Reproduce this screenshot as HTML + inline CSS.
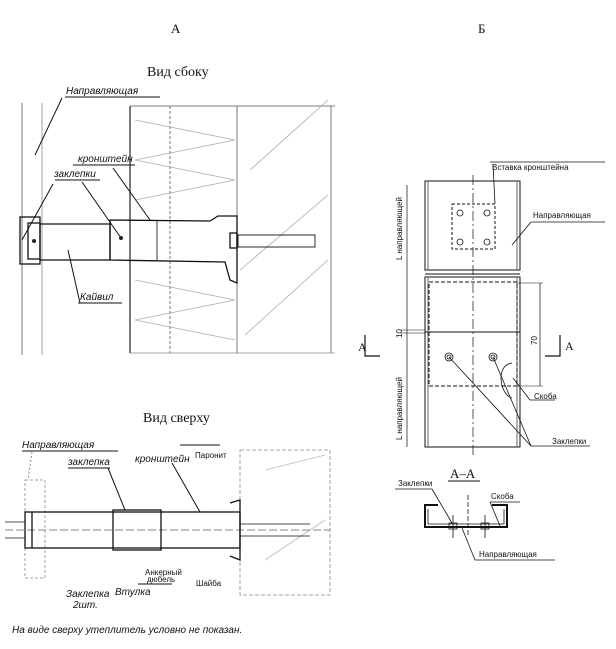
<!DOCTYPE html>
<html><head><meta charset="utf-8"><style>
html,body{margin:0;padding:0;background:#fff;}
svg{display:block}
text{font-family:"Liberation Serif",serif;fill:#111}
.h{font-family:"Liberation Sans",sans-serif;font-style:italic;font-size:10px}
.s{font-family:"Liberation Sans",sans-serif;font-size:8px}
</style></head><body>
<svg width="616" height="649" viewBox="0 0 616 649" xmlns="http://www.w3.org/2000/svg">
<text x="171" y="33" font-size="13">А</text>
<text x="478" y="33" font-size="13">Б</text>
<text x="147" y="76" font-size="14">Вид сбоку</text>
<text x="143" y="422" font-size="14">Вид сверху</text>

<!-- SIDE VIEW -->
<g fill="none" stroke="#555" stroke-width="0.8">
<line x1="22" y1="103" x2="22" y2="355"/>
<line x1="42" y1="103" x2="42" y2="355" stroke="#888"/>
<line x1="130" y1="106" x2="130" y2="353" stroke="#222" stroke-width="1.2"/>
<line x1="170" y1="106" x2="170" y2="353" stroke-dasharray="3,2"/>
<line x1="237" y1="106" x2="237" y2="353"/>
<line x1="331" y1="106" x2="331" y2="353"/>
<line x1="130" y1="106" x2="335" y2="106"/>
<line x1="130" y1="353" x2="335" y2="353" stroke="#888"/>
<path d="M135 120 L235 140 L135 160 L235 180 L135 200 M135 280 L235 300 L135 320 L235 340" stroke="#aaa"/>
<path d="M250 170 L328 100 M240 270 L328 195 M245 335 L328 260" stroke="#aaa"/>
</g>
<g fill="none" stroke="#111" stroke-width="1.3">
<rect x="20" y="217" width="20" height="47"/>
<rect x="28" y="223" width="12" height="36"/>
<path d="M40 224 L110 224 L110 260 L40 260"/>
<path d="M110 220 L210 221 L218 216 L237 216 L237 283 L230 280 L225 262 L110 260 Z"/>
<line x1="157" y1="221" x2="157" y2="260" stroke="#666"/>
<rect x="230" y="233" width="7" height="15"/>
<rect x="238" y="235" width="77" height="12" stroke-width="0.9"/>
</g>
<circle cx="121" cy="238" r="2" fill="#222"/>
<circle cx="34" cy="241" r="2" fill="#222"/>
<g stroke="#111" stroke-width="1" fill="none">
<line x1="65" y1="97" x2="160" y2="97"/><line x1="62" y1="98" x2="35" y2="155"/>
<line x1="73" y1="165" x2="135" y2="165"/><line x1="113" y1="168" x2="150" y2="220"/>
<line x1="55" y1="180" x2="100" y2="180"/><line x1="82" y1="182" x2="121" y2="238"/>
<line x1="53" y1="184" x2="22" y2="240"/>
<line x1="78" y1="303" x2="122" y2="303"/><line x1="80" y1="303" x2="68" y2="250"/>
</g>
<text class="h" x="66" y="94">Направляющая</text>
<text class="h" x="78" y="162">кронштейн</text>
<text class="h" x="54" y="177">заклепки</text>
<text class="h" x="80" y="300">Кайвил</text>

<!-- TOP VIEW -->
<g fill="none" stroke="#888" stroke-width="0.8">
<rect x="25" y="480" width="20" height="98" stroke-dasharray="3,2"/>
<rect x="240" y="450" width="90" height="145" stroke-dasharray="4,2"/>
<path d="M265 470 L325 455 M265 560 L325 520" stroke="#bbb"/>
</g>
<g fill="none" stroke="#111" stroke-width="1.3">
<rect x="25" y="512" width="215" height="36"/>
<line x1="32" y1="512" x2="32" y2="548"/>
<rect x="113" y="510" width="48" height="40"/>
<path d="M230 503 L240 500 L240 560 L230 556"/>
<line x1="240" y1="524" x2="310" y2="524" stroke-width="0.8"/>
<line x1="240" y1="536" x2="310" y2="536" stroke-width="0.8"/>
<line x1="5" y1="522" x2="25" y2="522" stroke-width="0.8"/>
<line x1="5" y1="538" x2="25" y2="538" stroke-width="0.8"/>
<line x1="5" y1="530" x2="330" y2="530" stroke-width="0.5" stroke-dasharray="8,3"/>
</g>
<g stroke="#111" stroke-width="1" fill="none">
<line x1="22" y1="451" x2="118" y2="451"/><line x1="32" y1="452" x2="28" y2="480" stroke="#888" stroke-dasharray="2,2"/>
<line x1="68" y1="468" x2="110" y2="468"/><line x1="108" y1="468" x2="125" y2="510"/>
<line x1="172" y1="463" x2="200" y2="512"/>
<line x1="180" y1="445" x2="220" y2="445"/>
<line x1="138" y1="584" x2="172" y2="584"/>
</g>
<text class="h" x="22" y="448">Направляющая</text>
<text class="h" x="68" y="465">заклепка</text>
<text class="h" x="135" y="462">кронштейн</text>
<text class="s" x="195" y="458" font-size="6">Паронит</text>
<text class="s" x="145" y="575" font-size="6">Анкерный</text>
<text class="s" x="147" y="582" font-size="6">дюбель</text>
<text class="s" x="196" y="586" font-size="6">Шайба</text>
<text class="h" x="115" y="595">Втулка</text>
<text class="h" x="66" y="597">Заклепка</text>
<text class="h" x="73" y="608">2шт.</text>
<text class="h" x="12" y="633" font-size="11">На виде сверху утеплитель условно не показан.</text>

<!-- RIGHT VIEW Б -->
<g fill="none" stroke="#111" stroke-width="1">
<path d="M425 181 L425 270 L520 270 L520 181 Z"/>
<line x1="428" y1="181" x2="428" y2="270" stroke="#666"/>
<line x1="517" y1="181" x2="517" y2="270" stroke="#666"/>
<path d="M425 274 L520 274 M425 277 L425 447 L520 447 L520 277 Z"/>
<line x1="428" y1="277" x2="428" y2="447" stroke="#666"/>
<line x1="517" y1="277" x2="517" y2="447" stroke="#666"/>
<line x1="425" y1="332" x2="520" y2="332"/>
<rect x="452" y="204" width="43" height="45" stroke-dasharray="3,2"/>
<rect x="429" y="282" width="88" height="104" stroke-dasharray="4,2"/>
<line x1="473" y1="175" x2="473" y2="456" stroke-dasharray="10,3,2,3" stroke-width="0.7"/>
<line x1="407" y1="185" x2="407" y2="447" stroke-width="0.7"/>
<line x1="400" y1="330" x2="425" y2="330" stroke-width="0.6"/>
<line x1="400" y1="333" x2="425" y2="333" stroke-width="0.6"/>
<line x1="540" y1="283" x2="540" y2="386" stroke-width="0.7"/>
<line x1="517" y1="283" x2="543" y2="283" stroke-width="0.6"/>
<line x1="517" y1="386" x2="543" y2="386" stroke-width="0.6"/>
<path d="M365 335 L365 356 L380 356 M560 335 L560 356 L545 356" stroke-width="1.2"/>
<path d="M512 363 C495 365 500 395 512 398" stroke-width="0.8"/>
</g>
<g stroke="#111" stroke-width="0.8">
<circle cx="460" cy="213" r="3" fill="none"/><circle cx="487" cy="213" r="3" fill="none"/>
<circle cx="460" cy="242" r="3" fill="none"/><circle cx="487" cy="242" r="3" fill="none"/>
<circle cx="449" cy="357" r="4" fill="none"/><circle cx="449" cy="357" r="2" fill="none"/>
<circle cx="493" cy="357" r="4" fill="none"/><circle cx="493" cy="357" r="2" fill="none"/>
<line x1="449" y1="357" x2="531" y2="446"/><line x1="493" y1="357" x2="531" y2="446"/>
<line x1="513" y1="378" x2="530" y2="400"/>
<line x1="530" y1="400" x2="555" y2="400"/>
<line x1="531" y1="446" x2="590" y2="446"/>
<line x1="490" y1="162" x2="605" y2="162"/><line x1="493" y1="164" x2="495" y2="204"/>
<line x1="531" y1="222" x2="605" y2="222"/><line x1="531" y1="222" x2="512" y2="245"/>
</g>
<text class="s" x="492" y="170" font-size="9">Вставка кронштейна</text>
<text class="s" x="533" y="218" font-size="9">Направляющая</text>
<text class="s" x="534" y="399" font-size="9">Скоба</text>
<text class="s" x="552" y="444" font-size="8">Заклепки</text>
<text x="358" y="351" font-size="12">А</text>
<text x="565" y="350" font-size="12">А</text>
<text class="s" transform="translate(402,260) rotate(-90)" font-size="9">L направляющей</text>
<text class="s" transform="translate(402,440) rotate(-90)" font-size="9">L направляющей</text>
<text class="s" transform="translate(402,338) rotate(-90)" font-size="8">10</text>
<text class="s" transform="translate(537,345) rotate(-90)" font-size="9">70</text>

<!-- A-A -->
<text x="450" y="478" font-size="13">А–А</text>
<line x1="448" y1="481" x2="480" y2="481" stroke="#111"/>
<g fill="none" stroke="#111" stroke-width="2">
<path d="M438 505 L425 505 L425 527 L507 527 L507 505 L492 505"/>
</g>
<g stroke="#111" stroke-width="0.8" fill="none">
<path d="M428 509 L428 524 L504 524 L504 509"/>
<line x1="468" y1="495" x2="468" y2="535" stroke-dasharray="5,2"/>
<line x1="453" y1="515" x2="453" y2="538"/><line x1="485" y1="515" x2="485" y2="538"/>
<rect x="449" y="523" width="8" height="6"/><rect x="481" y="523" width="8" height="6"/>
<line x1="395" y1="489" x2="432" y2="489"/><line x1="432" y1="489" x2="452" y2="523"/>
<line x1="490" y1="502" x2="520" y2="502"/><line x1="490" y1="502" x2="500" y2="526"/>
<line x1="475" y1="560" x2="555" y2="560"/><line x1="475" y1="560" x2="462" y2="528"/>
</g>
<text class="s" x="398" y="486" font-size="8">Заклепки</text>
<text class="s" x="491" y="499" font-size="9">Скоба</text>
<text class="s" x="479" y="557" font-size="9">Направляющая</text>
</svg>
</body></html>
